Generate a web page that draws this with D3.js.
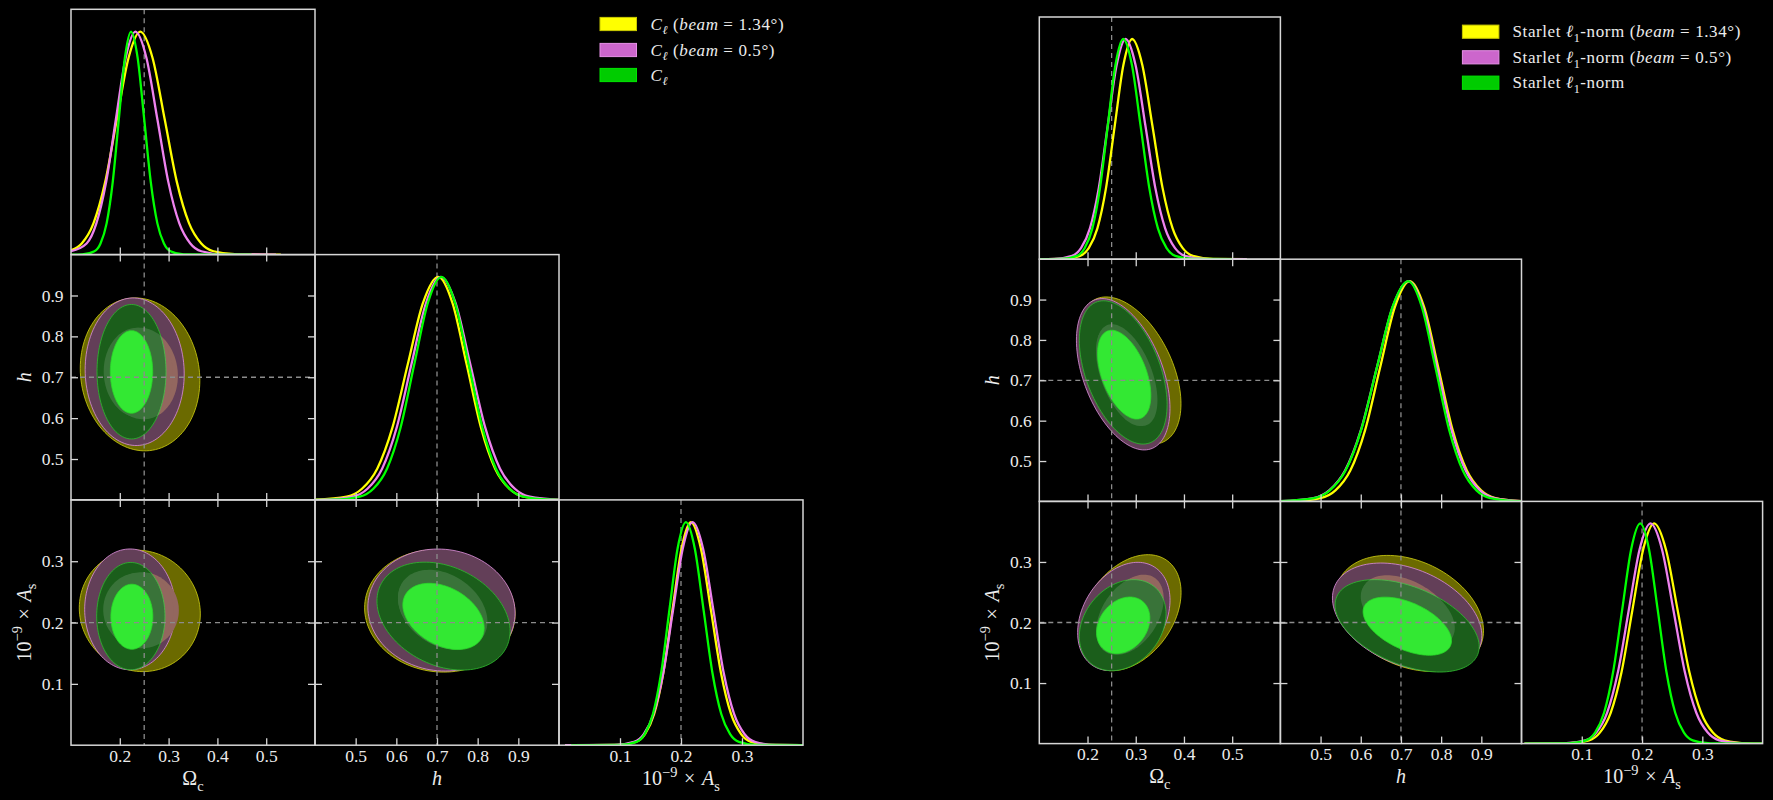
<!DOCTYPE html>
<html><head><meta charset="utf-8">
<script src="https://cdn.jsdelivr.net/npm/d3@7"></script>
<style>html,body{margin:0;background:#000;overflow:hidden;} svg{display:block;}</style>
</head><body>
<svg id="chart" width="1773" height="800"></svg>
<script>
// ---------------- DATA ----------------
const paramRanges = [[0.1, 0.6], [0.4, 1.0], [0.0, 0.4]];
const paramTicks = [[0.2, 0.3, 0.4, 0.5], [0.5, 0.6, 0.7, 0.8, 0.9], [0.1, 0.2, 0.3]];
const truthValues = [0.25, 0.7, 0.2];
const seriesKeys = ["yellow", "violet", "green"];

// axis labels: [text, style]
const axisLabels = [
  [["Ω", "r"], ["c", "sub"]],
  [["h", "i"]],
  [["10", "r"], ["−9", "sup"], ["\u2004×\u2004", "r"], ["A", "i"], ["s", "sub"]]
];
const leftLegendLabels = [
  [["C", "i"], ["ℓ", "isub"], [" (", "r"], ["beam", "i"], [" = 1.34°)", "r"]],
  [["C", "i"], ["ℓ", "isub"], [" (", "r"], ["beam", "i"], [" = 0.5°)", "r"]],
  [["C", "i"], ["ℓ", "isub"]]
];
const rightLegendLabels = [
  [["Starlet ", "r"], ["ℓ", "i"], ["1", "sub"], ["-norm (", "r"], ["beam", "i"], [" = 1.34°)", "r"]],
  [["Starlet ", "r"], ["ℓ", "i"], ["1", "sub"], ["-norm (", "r"], ["beam", "i"], [" = 0.5°)", "r"]],
  [["Starlet ", "r"], ["ℓ", "i"], ["1", "sub"], ["-norm", "r"]]
];

// 1D marginals: [value, normalised density]
const leftOmega1D = {
  yellow: [[0.10,0.02],[0.122,0.05],[0.146,0.14],[0.170,0.325],[0.194,0.607],[0.218,0.883],[0.242,1],[0.267,0.883],[0.292,0.607],[0.317,0.325],[0.342,0.14],[0.367,0.05],[0.392,0.015],[0.442,0.001],[0.53,0]],
  violet: [[0.10,0.015],[0.132,0.05],[0.152,0.14],[0.172,0.325],[0.192,0.607],[0.212,0.883],[0.232,1],[0.2545,0.883],[0.277,0.607],[0.2995,0.325],[0.322,0.14],[0.3445,0.05],[0.367,0.015],[0.412,0.001],[0.52,0]],
  green: [[0.10,0],[0.123,0.001],[0.148,0.015],[0.1605,0.05],[0.173,0.14],[0.1855,0.325],[0.198,0.607],[0.2105,0.883],[0.223,1],[0.2365,0.883],[0.25,0.607],[0.2635,0.325],[0.277,0.14],[0.2905,0.05],[0.304,0.015],[0.331,0.001],[0.47,0]]
};
const leftH1D = {
  yellow: [[0.40,0.001],[0.478,0.015],[0.5155,0.05],[0.553,0.14],[0.5905,0.325],[0.628,0.607],[0.6655,0.883],[0.703,1],[0.738,0.883],[0.773,0.607],[0.808,0.325],[0.843,0.14],[0.878,0.05],[0.913,0.015],[0.983,0.001],[1.0,0]],
  violet: [[0.40,0.0005],[0.421,0.001],[0.493,0.015],[0.529,0.05],[0.565,0.14],[0.601,0.325],[0.637,0.607],[0.673,0.883],[0.709,1],[0.7455,0.883],[0.782,0.607],[0.8185,0.325],[0.855,0.14],[0.8915,0.05],[0.928,0.015],[1.0,0.001]],
  green: [[0.40,0],[0.443,0.001],[0.510,0.015],[0.5435,0.05],[0.577,0.14],[0.6105,0.325],[0.644,0.607],[0.6775,0.883],[0.711,1],[0.7445,0.883],[0.778,0.607],[0.8115,0.325],[0.845,0.14],[0.8785,0.05],[0.912,0.015],[0.979,0.001],[1.0,0]]
};
const leftAs1D = {
  yellow: [[0.01,0],[0.096,0.001],[0.126,0.015],[0.141,0.05],[0.156,0.14],[0.171,0.325],[0.186,0.607],[0.201,0.883],[0.216,1],[0.2325,0.883],[0.249,0.607],[0.2655,0.325],[0.282,0.14],[0.2985,0.05],[0.315,0.015],[0.348,0.001],[0.40,0]],
  violet: [[0.01,0],[0.091,0.001],[0.123,0.015],[0.139,0.05],[0.155,0.14],[0.171,0.325],[0.187,0.607],[0.203,0.883],[0.219,1],[0.236,0.883],[0.253,0.607],[0.27,0.325],[0.287,0.14],[0.304,0.05],[0.321,0.015],[0.355,0.001],[0.40,0]],
  green: [[0.02,0],[0.10,0.001],[0.127,0.015],[0.1405,0.05],[0.154,0.14],[0.1675,0.325],[0.181,0.607],[0.1945,0.883],[0.208,1],[0.2225,0.883],[0.237,0.607],[0.2515,0.325],[0.266,0.14],[0.2805,0.05],[0.295,0.015],[0.324,0.001],[0.40,0]]
};
const rightOmega1D = {
  yellow: [[0.10,0],[0.1485,0.001],[0.1845,0.015],[0.2025,0.05],[0.2205,0.14],[0.2385,0.325],[0.2565,0.607],[0.2745,0.883],[0.2925,1],[0.3135,0.883],[0.3345,0.607],[0.3555,0.325],[0.3765,0.14],[0.3975,0.05],[0.4185,0.015],[0.4605,0.001],[0.53,0]],
  violet: [[0.10,0],[0.131,0.001],[0.168,0.015],[0.1865,0.05],[0.205,0.14],[0.2235,0.325],[0.242,0.607],[0.2605,0.883],[0.279,1],[0.2995,0.883],[0.32,0.607],[0.3405,0.325],[0.361,0.14],[0.3815,0.05],[0.402,0.015],[0.443,0.001],[0.53,0]],
  green: [[0.10,0],[0.146,0.001],[0.178,0.015],[0.194,0.05],[0.21,0.14],[0.226,0.325],[0.242,0.607],[0.258,0.883],[0.274,1],[0.292,0.883],[0.31,0.607],[0.328,0.325],[0.346,0.14],[0.364,0.05],[0.382,0.015],[0.418,0.001],[0.50,0]]
};
const rightH1D = {
  yellow: [[0.40,0],[0.426,0.001],[0.50,0.015],[0.537,0.05],[0.574,0.14],[0.611,0.325],[0.648,0.607],[0.685,0.883],[0.722,1],[0.7575,0.883],[0.793,0.607],[0.8285,0.325],[0.864,0.14],[0.8995,0.05],[0.935,0.015],[1.0,0.001]],
  violet: [[0.40,0.001],[0.482,0.015],[0.5215,0.05],[0.561,0.14],[0.6005,0.325],[0.64,0.607],[0.6795,0.883],[0.719,1],[0.7545,0.883],[0.79,0.607],[0.8255,0.325],[0.861,0.14],[0.8965,0.05],[0.932,0.015],[1.0,0.001]],
  green: [[0.40,0.001],[0.484,0.015],[0.523,0.05],[0.562,0.14],[0.601,0.325],[0.64,0.607],[0.679,0.883],[0.718,1],[0.752,0.883],[0.786,0.607],[0.82,0.325],[0.854,0.14],[0.888,0.05],[0.922,0.015],[0.99,0.001],[1.0,0]]
};
const rightAs1D = {
  yellow: [[0.005,0],[0.076,0.001],[0.112,0.015],[0.13,0.05],[0.148,0.14],[0.166,0.325],[0.184,0.607],[0.202,0.883],[0.22,1],[0.2395,0.883],[0.259,0.607],[0.2785,0.325],[0.298,0.14],[0.3175,0.05],[0.337,0.015],[0.376,0.001],[0.40,0]],
  violet: [[0.005,0],[0.07,0.001],[0.106,0.015],[0.124,0.05],[0.142,0.14],[0.16,0.325],[0.178,0.607],[0.196,0.883],[0.214,1],[0.233,0.883],[0.252,0.607],[0.271,0.325],[0.29,0.14],[0.309,0.05],[0.328,0.015],[0.366,0.001],[0.40,0]],
  green: [[0.005,0],[0.077,0.001],[0.107,0.015],[0.122,0.05],[0.137,0.14],[0.152,0.325],[0.167,0.607],[0.182,0.883],[0.197,1],[0.2115,0.883],[0.226,0.607],[0.2405,0.325],[0.255,0.14],[0.2695,0.05],[0.284,0.015],[0.313,0.001],[0.40,0]]
};

// 2D contours: [level, centre x, centre y, half-width x, half-height y, tilt]
// Y = yellow (beam 1.34), P = violet (beam 0.5), G = green; 2 = 95%, 1 = 68%
const leftOmegaH = [
  ["Y2", 0.2415, 0.707, 0.1225, 0.187, -0.08],
  ["Y1", 0.245, 0.709, 0.074, 0.112, -0.05],
  ["P2", 0.2305, 0.7135, 0.1015, 0.1805, -0.03],
  ["P1", 0.238, 0.711, 0.071, 0.110, -0.03],
  ["G2", 0.224, 0.7135, 0.0707, 0.1645, 0.0],
  ["G1", 0.224, 0.713, 0.0434, 0.101, 0.0]
];
const leftOmegaAs = [
  ["Y2", 0.241, 0.219, 0.124, 0.099, -0.05],
  ["Y1", 0.245, 0.220, 0.076, 0.062, 0.0],
  ["P2", 0.221, 0.2215, 0.093, 0.0985, 0.0],
  ["P1", 0.238, 0.221, 0.072, 0.060, 0.0],
  ["G2", 0.2226, 0.2105, 0.070, 0.0875, 0.0],
  ["G1", 0.2247, 0.2095, 0.043, 0.053, 0.0]
];
const leftHAs = [
  ["Y2", 0.707, 0.219, 0.185, 0.0998, -0.05],
  ["Y1", 0.714, 0.221, 0.110, 0.065, -0.3],
  ["P2", 0.711, 0.2204, 0.181, 0.0995, -0.05],
  ["P1", 0.712, 0.220, 0.108, 0.064, -0.3],
  ["G2", 0.716, 0.2105, 0.1637, 0.088, -0.28],
  ["G1", 0.716, 0.210, 0.100, 0.054, -0.35]
];
const rightOmegaH = [
  ["Y2", 0.2868, 0.724, 0.107, 0.1825, -0.45],
  ["Y1", 0.282, 0.713, 0.063, 0.126, -0.5],
  ["P2", 0.274, 0.715, 0.097, 0.1875, -0.45],
  ["P1", 0.278, 0.711, 0.0605, 0.124, -0.5],
  ["G2", 0.274, 0.7195, 0.091, 0.1775, -0.45],
  ["G1", 0.276, 0.714, 0.0553, 0.110, -0.47]
];
const rightOmegaAs = [
  ["Y2", 0.288, 0.2162, 0.106, 0.0958, 0.35],
  ["Y1", 0.290, 0.213, 0.068, 0.066, 0.4],
  ["P2", 0.2753, 0.210, 0.0958, 0.0894, 0.3],
  ["P1", 0.284, 0.2116, 0.066, 0.0646, 0.4],
  ["G2", 0.2729, 0.1956, 0.0899, 0.0752, 0.25],
  ["G1", 0.274, 0.1953, 0.0553, 0.0468, 0.25]
];
const rightHAs = [
  ["Y2", 0.7216, 0.215, 0.1838, 0.0958, -0.3],
  ["Y1", 0.718, 0.218, 0.116, 0.060, -0.45],
  ["P2", 0.7154, 0.2093, 0.1859, 0.0889, -0.35],
  ["P1", 0.715, 0.2165, 0.115, 0.0585, -0.45],
  ["G2", 0.7154, 0.1945, 0.1793, 0.0763, -0.45],
  ["G1", 0.7158, 0.1939, 0.110, 0.048, -0.5]
];

// ---------------- STYLE ----------------
const FONT = "'Liberation Serif','Times New Roman',serif";
const TEXT = "#ececec";
const FRAME = "#d6d6d6";
const LINE_COLORS = {yellow: "#ffff00", violet: "#ee82ee", green: "#00ff00"};
const FILL = {Y2: "#6b6a00", P2: "#633f58", Y1: "#835047", P1: "#835047", G2: "#1b5e1b", G1: "#33e833"};
const EDGE = {Y2: "#c8c810", P2: "#d58ad5", Y1: "none", P1: "none", G2: "#2fb52f", G1: "#2ad82a"};
const PATCH = [{fill: "#ffff00", stroke: "#c8c800"}, {fill: "#cc66cc", stroke: "#e690e6"}, {fill: "#00cc00", stroke: "#00e600"}];

const svg = d3.select("#chart");
svg.append("rect").attr("width", 1773).attr("height", 800).attr("fill", "#000");
const defs = svg.append("defs");

function addRich(textSel, segs, fs) {
  let shift = 0;
  segs.forEach(([str, st]) => {
    const t = textSel.append("tspan").text(str);
    let target = 0, size = fs;
    if (st === "sub" || st === "isub") { target = fs * 0.28; size = fs * 0.72; }
    if (st === "sup") { target = -fs * 0.42; size = fs * 0.72; }
    if (st === "i" || st === "isub") t.attr("font-style", "italic");
    t.attr("font-size", size);
    const dy = target - shift;
    if (dy !== 0) t.attr("dy", dy);
    shift = target;
  });
}

function ellipsePath(e, xs, ys) {
  const [cx, cy, ax, ay, rho] = e;
  const s = Math.sqrt(1 - rho * rho);
  const pts = d3.range(120).map(i => {
    const t = i / 120 * 2 * Math.PI;
    return [xs(cx + ax * Math.cos(t)), ys(cy + ay * (rho * Math.cos(t) + s * Math.sin(t)))];
  });
  return d3.line().curve(d3.curveLinearClosed)(pts);
}

function styleAxis(sel) {
  sel.select(".domain").remove();
  sel.attr("font-family", FONT).attr("font-size", 17.5);
  sel.selectAll(".tick line").attr("stroke", FRAME).attr("stroke-width", 1.3);
  sel.selectAll(".tick text").attr("fill", TEXT);
}

function drawPlot(cfg) {
  const g = svg.append("g");
  const {x0, y0, pw, ph} = cfg;
  const xS = [0, 1, 2].map(c => d3.scaleLinear().domain(paramRanges[c]).range([x0 + c * pw, x0 + (c + 1) * pw]));
  const yS = [0, 1, 2].map(r => d3.scaleLinear().domain(paramRanges[r]).range([y0 + (r + 1) * ph, y0 + r * ph]));
  const dS = [0, 1, 2].map(r => d3.scaleLinear().domain([0, 1.1]).range([y0 + (r + 1) * ph, y0 + r * ph]));
  const fmt = d3.format(".1f");
  const none = () => "";
  const TL = 7;

  for (let r = 0; r < 3; r++) {
    for (let c = 0; c <= r; c++) {
      const px = x0 + c * pw, py = y0 + r * ph;
      const id = `${cfg.id}-${r}-${c}`;
      defs.append("clipPath").attr("id", id).append("rect")
        .attr("x", px).attr("y", py).attr("width", pw).attr("height", ph);
      const pg = g.append("g").attr("clip-path", `url(#${id})`);
      if (r === c) {
        pg.append("line")
          .attr("x1", xS[c](truthValues[c])).attr("x2", xS[c](truthValues[c]))
          .attr("y1", py).attr("y2", py + ph)
          .attr("stroke", "#8c8c8c").attr("stroke-width", 1.3).attr("stroke-dasharray", "5,4");
        const curves = cfg.oneD[c];
        const line = d3.line().x(d => xS[c](d[0])).y(d => dS[r](d[1])).curve(d3.curveMonotoneX);
        seriesKeys.forEach(k => {
          pg.append("path").datum(curves[k]).attr("d", line)
            .attr("fill", "none").attr("stroke", LINE_COLORS[k]).attr("stroke-width", 2.3);
        });
      } else {
        const rows = cfg.twoD[`${c}-${r}`];
        const byKey = {};
        rows.forEach(row => { byKey[row[0]] = row.slice(1); });
        ["Y2", "P2", "Y1", "P1", "G2"].forEach(key => {
          pg.append("path").attr("d", ellipsePath(byKey[key], xS[c], yS[r]))
            .attr("fill", FILL[key]).attr("stroke", EDGE[key]).attr("stroke-width", 1)
            .attr("stroke-opacity", 0.85);
        });
        const ov = pg.append("g").attr("opacity", 0.13);
        ["Y1", "P1"].forEach(key => {
          ov.append("path").attr("d", ellipsePath(byKey[key], xS[c], yS[r])).attr("fill", "#ffffff");
        });
        pg.append("path").attr("d", ellipsePath(byKey.G1, xS[c], yS[r]))
          .attr("fill", FILL.G1).attr("stroke", EDGE.G1).attr("stroke-width", 0.8);
        pg.append("line")
          .attr("x1", xS[c](truthValues[c])).attr("x2", xS[c](truthValues[c]))
          .attr("y1", py).attr("y2", py + ph)
          .attr("stroke", "#8c8c8c").attr("stroke-width", 1.3).attr("stroke-dasharray", "5,4");
        pg.append("line")
          .attr("y1", yS[r](truthValues[r])).attr("y2", yS[r](truthValues[r]))
          .attr("x1", px).attr("x2", px + pw)
          .attr("stroke", "#8c8c8c").attr("stroke-width", 1.3).attr("stroke-dasharray", "5,4");
      }
      // axes
      g.append("g").attr("transform", `translate(0,${py + ph})`)
        .call(d3.axisBottom(xS[c]).tickValues(paramTicks[c]).tickSizeInner(-TL).tickSizeOuter(0)
          .tickPadding(4).tickFormat(r === 2 ? fmt : none))
        .call(styleAxis);
      if (r !== c) {
        g.append("g").attr("transform", `translate(0,${py})`)
          .call(d3.axisTop(xS[c]).tickValues(paramTicks[c]).tickSizeInner(-TL).tickSizeOuter(0).tickFormat(none))
          .call(styleAxis);
        g.append("g").attr("transform", `translate(${px},0)`)
          .call(d3.axisLeft(yS[r]).tickValues(paramTicks[r]).tickSizeInner(-TL).tickSizeOuter(0)
            .tickPadding(7.5).tickFormat(c === 0 ? fmt : none))
          .call(styleAxis);
        g.append("g").attr("transform", `translate(${px + pw},0)`)
          .call(d3.axisRight(yS[r]).tickValues(paramTicks[r]).tickSizeInner(-TL).tickSizeOuter(0).tickFormat(none))
          .call(styleAxis);
      }
      g.append("rect").attr("x", px).attr("y", py).attr("width", pw).attr("height", ph)
        .attr("fill", "none").attr("stroke", FRAME).attr("stroke-width", 1.5);
    }
  }

  // x labels
  [0, 1, 2].forEach(c => {
    const t = g.append("text").attr("x", x0 + (c + 0.5) * pw).attr("y", cfg.xLabelY)
      .attr("text-anchor", "middle").attr("font-family", FONT).attr("fill", TEXT);
    addRich(t, axisLabels[c], 20);
  });
  // y labels
  [1, 2].forEach(r => {
    const t = g.append("text")
      .attr("transform", `translate(${cfg.yLabelX},${y0 + (r + 0.5) * ph}) rotate(-90)`)
      .attr("text-anchor", "middle").attr("font-family", FONT).attr("fill", TEXT);
    addRich(t, axisLabels[r], 20);
  });
  // legend
  cfg.legendLabels.forEach((segs, i) => {
    const cy = cfg.legend.rows[i];
    g.append("rect").attr("x", cfg.legend.x).attr("y", cy - 6.6).attr("width", 36.5).attr("height", 13.2)
      .attr("fill", PATCH[i].fill).attr("stroke", PATCH[i].stroke).attr("stroke-width", 1);
    const t = g.append("text").attr("x", cfg.legend.tx).attr("y", cy + 5.6)
      .attr("font-family", FONT).attr("fill", TEXT).attr("letter-spacing", 0.6);
    addRich(t, segs, 17);
  });
}

drawPlot({
  id: "L", x0: 71, y0: 9.3, pw: 244, ph: 245.3,
  oneD: [leftOmega1D, leftH1D, leftAs1D],
  twoD: {"0-1": leftOmegaH, "0-2": leftOmegaAs, "1-2": leftHAs},
  xLabelY: 785, yLabelX: 30.5,
  legend: {x: 600, tx: 650.5, rows: [24, 50, 75]},
  legendLabels: leftLegendLabels
});
drawPlot({
  id: "R", x0: 1039.3, y0: 17, pw: 241.1, ph: 242.2,
  oneD: [rightOmega1D, rightH1D, rightAs1D],
  twoD: {"0-1": rightOmegaH, "0-2": rightOmegaAs, "1-2": rightHAs},
  xLabelY: 783, yLabelX: 998.5,
  legend: {x: 1462.4, tx: 1512.5, rows: [31.7, 57.3, 82.7]},
  legendLabels: rightLegendLabels
});
</script>
</body></html>
